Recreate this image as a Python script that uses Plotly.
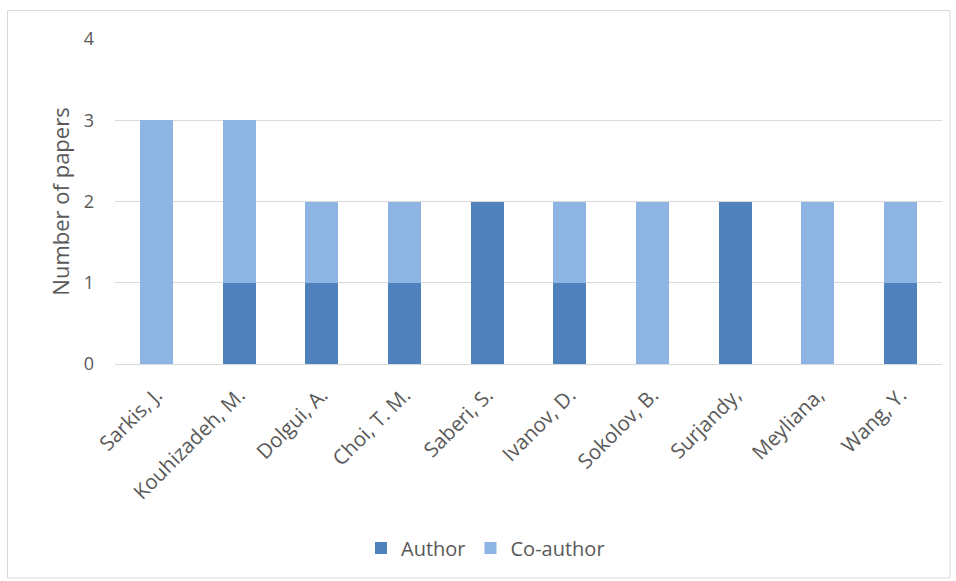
import plotly.graph_objects as go

authors = ["Sarkis, J.", "Kouhizadeh, M.", "Dolgui, A.", "Choi, T. M.", "Saberi, S.",
           "Ivanov, D.", "Sokolov, B.", "Surjandy,", "Meyliana,", "Wang, Y."]
author_counts = [0, 1, 1, 1, 2, 1, 0, 2, 0, 1]
coauthor_counts = [3, 2, 1, 1, 0, 1, 2, 0, 2, 1]
y_ticks = [0, 1, 2, 3, 4]

W, H = 956, 581
L, R, T, B = 115, 14, 39, 217
pw, ph = W - L - R, H - T - B

def px(x):
    return (x - L) / pw

def py(y):
    return (H - B - y) / ph

font_family = "Open Sans, Lato, sans-serif"
gray = "#595959"

fig = go.Figure()
fig.add_trace(go.Bar(x=authors, y=author_counts, name="Author",
                     marker=dict(color="#4F81BD", line=dict(width=0))))
fig.add_trace(go.Bar(x=authors, y=coauthor_counts, name="Co-author",
                     marker=dict(color="#8EB4E3", line=dict(width=0))))

fig.update_layout(
    width=W, height=H,
    barmode="stack", bargap=0.6,
    margin=dict(l=L, r=R, t=T, b=B),
    paper_bgcolor="white", plot_bgcolor="white",
    font=dict(family=font_family, color=gray, size=18),
    showlegend=True,
    legend=dict(orientation="h", x=px(361), y=py(548), xanchor="left", yanchor="middle",
                font=dict(size=20, color=gray), itemwidth=30, traceorder="normal",
                bgcolor="rgba(0,0,0,0)"),
    shapes=[dict(type="rect", xref="paper", yref="paper",
                 x0=px(7.5), x1=px(950), y0=py(578), y1=py(10.5),
                 line=dict(color="#D9D9D9", width=1), fillcolor="rgba(0,0,0,0)", layer="below")],
)
fig.update_xaxes(tickangle=-45, tickfont=dict(size=20.5, color=gray), showgrid=False,
                 showline=True, linecolor="#D9D9D9", linewidth=1, ticks="",
                 ticklabelstandoff=10)
fig.update_yaxes(range=[0, 4], tickvals=y_ticks, showgrid=True, gridcolor="#D9D9D9", gridwidth=1,
                 zeroline=False, showline=False, ticks="", ticklabelstandoff=20,
                 tickfont=dict(size=18, color=gray),
                 title=dict(text="Number of papers", font=dict(size=22, color=gray), standoff=8))

fig.write_html("out.html")
